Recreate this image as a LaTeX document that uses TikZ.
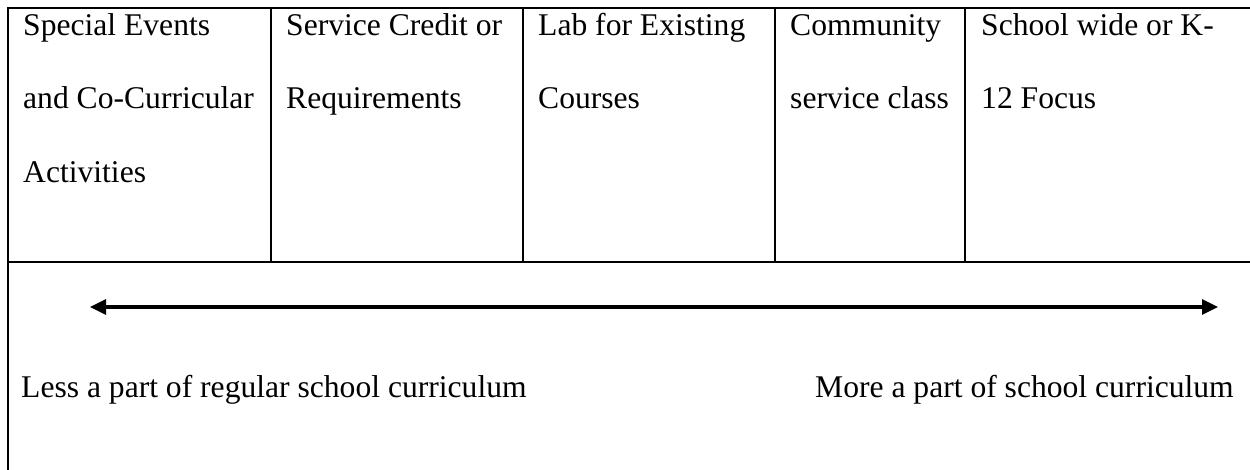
\documentclass[tikz,border=0pt]{standalone}
\usepackage{fontspec}
\setmainfont{Liberation Serif}
\usetikzlibrary{arrows.meta}
\begin{document}
\begin{tikzpicture}[x=1pt,y=-1pt,
  rule/.style={line width=2pt,black},
  celltext/.style={anchor=base west,inner sep=0pt,font=\fontsize{31.6}{38}\selectfont},
  scalearrow/.style={line width=3.2pt,{Triangle[length=16pt,width=15pt]}-{Triangle[length=16pt,width=15pt]}}]
\useasboundingbox (0,0) rectangle (1250,470);
% table rules
\draw[rule] (1250,8) -- (8,8) -- (8,471);
\draw[rule] (8,262) -- (1250,262);
\foreach \x in {271,523,775,965} \draw[rule] (\x,8) -- (\x,262);
% cell texts
\node[celltext] (c1a) at (23,36) {Special Events};
\node[celltext] (c1b) at (23,109) {and Co-Curricular};
\node[celltext] (c1c) at (23,183) {Activities};
\node[celltext] (c2a) at (286,36) {Service Credit or};
\node[celltext] (c2b) at (286,109) {Requirements};
\node[celltext] (c3a) at (538,36) {Lab for Existing};
\node[celltext] (c3b) at (538,109) {Courses};
\node[celltext] (c4a) at (790,36) {Community};
\node[celltext] (c4b) at (790,109) {service class};
\node[celltext] (c5a) at (981,36) {School wide or K-};
\node[celltext] (c5b) at (981,109) {12 Focus};
% scale
\coordinate (L) at (90,307);
\coordinate (R) at (1218,307);
\draw[scalearrow] (L) -- (R);
\node[celltext] (less) at (21,397) {Less a part of regular school curriculum};
\node[celltext] (more) at (815,397) {More a part of school curriculum};
\end{tikzpicture}
\end{document}
